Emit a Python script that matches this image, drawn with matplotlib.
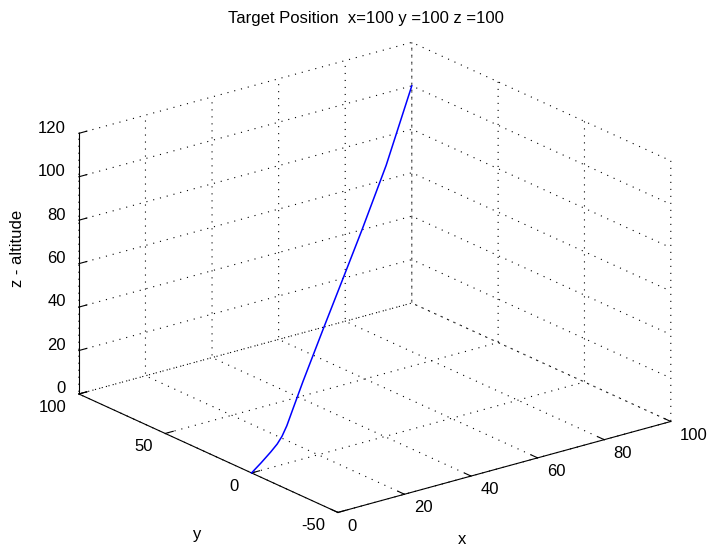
import matplotlib
matplotlib.use('Agg')
import matplotlib.pyplot as plt
import numpy as np

# flight path toward the target (x = y along the run, z climbs after take-off)
path_x = [0, 6, 12, 16, 19, 22, 26, 32, 45, 57, 69, 84, 100]
path_y = [0, 6, 12, 16, 19, 22, 26, 32, 45, 57, 69, 84, 100]
path_z = [0, 0, 0.3, 0.8, 2.0, 4.5, 9.5, 16.9, 31.6, 44.8, 58.1, 75.9, 100]

x_ticks = [0, 20, 40, 60, 80, 100]
y_ticks = [-50, 0, 50, 100]
z_ticks = [0, 20, 40, 60, 80, 100, 120]

plt.rcParams['font.family'] = ['Liberation Sans', 'DejaVu Sans']
plt.rcParams['font.size'] = 12
plt.rcParams['axes.unicode_minus'] = False

grid_style = dict(color='k', linestyle=(0, (1, 5.3)), linewidth=0.8)

fig = plt.figure(figsize=(7.14, 5.49), dpi=100)
ax = fig.add_axes([0.0146, -0.0188, 1.0, 1.0], projection='3d', proj_type='ortho')
ax.view_init(elev=20.7, azim=-127.7)
ax.set_box_aspect((1.51, 1.52, 1.0), zoom=1.165)

ax.plot(path_x, path_y, path_z, color='#0000ff', lw=1.1)

ax.set_xlim(0, 100)
ax.set_ylim(-50, 100)
ax.set_zlim(0, 120)
ax.set_xticks(x_ticks)
ax.set_yticks(y_ticks)
ax.set_zticks(z_ticks)

for axis in (ax.xaxis, ax.yaxis, ax.zaxis):
    axis.set_pane_color((1, 1, 1, 0))
    axis.pane.set_edgecolor((1, 1, 1, 0))
    axis.line.set_color('k')
    axis._axinfo['grid'].update(grid_style)
    axis._axinfo['tick']['inward_factor'] = 0.0
    axis._axinfo['tick']['outward_factor'] = 0.3

# tick label placement: x labels hang right of the ticks, y labels left, z labels left
ax.xaxis.set_tick_params(pad=-0.6)
ax.yaxis.set_tick_params(pad=-0.3)
ax.zaxis.set_tick_params(pad=-3.5)
for lbl in ax.get_xticklabels():
    lbl.set_ha('left')
    lbl.set_va('center')
for lbl in ax.get_yticklabels():
    lbl.set_ha('right')
    lbl.set_va('center')
for lbl in ax.get_zticklabels():
    lbl.set_ha('right')
    lbl.set_va('baseline')

fig.text(462 / 714, 1 - 540 / 549, 'x', ha='center', va='center')
fig.text(197 / 714, 1 - 535 / 549, 'y', ha='center', va='center')
fig.text(18 / 714, 1 - 248 / 549, 'z - altitude', rotation=90, ha='center', va='center')
fig.suptitle('Target Position  x=100 y =100 z =100', x=366 / 714, y=1 - 18 / 549,
             va='center', fontsize=12)

fig.savefig('out.png', dpi=100, facecolor='white')
